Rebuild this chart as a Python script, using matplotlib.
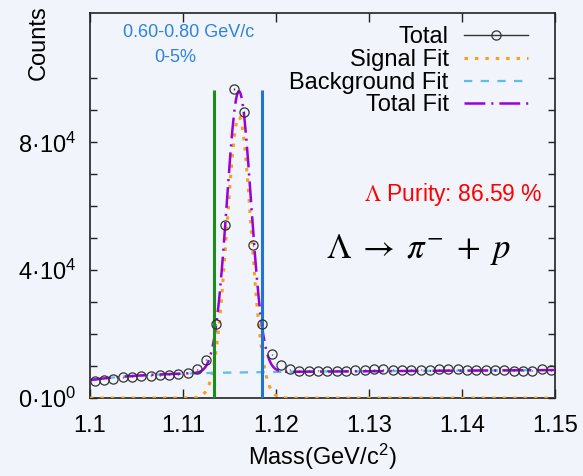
import numpy as np
import matplotlib
matplotlib.use("Agg")
import matplotlib.pyplot as plt
from matplotlib.lines import Line2D
from matplotlib.ticker import FixedLocator

plt.rcParams['font.family'] = ['Liberation Sans', 'DejaVu Sans']
plt.rcParams['mathtext.fontset'] = 'custom'
plt.rcParams['mathtext.rm'] = 'Liberation Sans'
plt.rcParams['mathtext.it'] = 'Liberation Sans:italic'
plt.rcParams['mathtext.bf'] = 'Liberation Sans:bold'
plt.rcParams['lines.scale_dashes'] = False

# ---------------- data ----------------
mass = [1.1005, 1.1015, 1.1025, 1.1035, 1.1045, 1.1055, 1.1065, 1.1075, 1.1085, 1.1095,
        1.1105, 1.1115, 1.1125, 1.1135, 1.1145, 1.1155, 1.1165, 1.1175, 1.1185, 1.1195,
        1.1205, 1.1215, 1.1225, 1.1235, 1.1245, 1.1255, 1.1265, 1.1275, 1.1285, 1.1295,
        1.1305, 1.1315, 1.1325, 1.1335, 1.1345, 1.1355, 1.1365, 1.1375, 1.1385, 1.1395,
        1.1405, 1.1415, 1.1425, 1.1435, 1.1445, 1.1455, 1.1465, 1.1475, 1.1485, 1.1495]
counts = [5400, 5600, 5950, 6450, 6650, 6880, 6980, 7080, 7300, 7400,
          7800, 8950, 12000, 23100, 54000, 96600, 89500, 47800, 23100, 13650,
          10300, 8950, 8540, 8540, 8540, 8540, 8540, 8540, 8750, 8850,
          8960, 8960, 8850, 8750, 8850, 8850, 8650, 8960, 8960, 8960,
          8750, 8750, 8750, 8650, 8650, 8540, 8540, 8540, 8960, 8650]

# fit parameters (Gaussian signal + saturating background)
sig_amp, sig_mean, sig_sigma = 88000.0, 1.1160, 0.0013
bg_x0, bg_a, bg_b, bg_c, bg_tau = 1.100, 7880.0, 17400.0, 2280.0, 0.006

# purity window
window_lo, window_hi, window_top = 1.1133, 1.1185, 96500

x_range = [1.10, 1.15]
y_range = [0, 120400]
x_ticks = [1.10, 1.11, 1.12, 1.13, 1.14, 1.15]
x_tick_labels = ['1.1', '1.11', '1.12', '1.13', '1.14', '1.15']
y_ticks = [0, 40000, 80000]
y_tick_labels = ['0·10$^{0}$', '4·10$^{4}$', '8·10$^{4}$']
y_minor_ticks = [10000, 20000, 30000, 50000, 60000, 70000, 90000, 100000]

legend_labels = ['Total', 'Signal Fit', 'Background Fit', 'Total Fit']

# ---------------- colours ----------------
bgcol = '#f1f4fa'
c_data = '#333333'
c_sig = '#f7a21b'
c_bg = '#5bbcee'
c_tot = '#9a00d8'
c_lo = '#1c8c1c'
c_hi = '#1f74d6'
c_text_blue = '#2b84dc'

fig = plt.figure(figsize=(5.83, 4.76), dpi=100, facecolor=bgcol)
ax = fig.add_axes([0.15437, 0.16387, 0.79846, 0.8082])
ax.set_facecolor(bgcol)

xf = np.linspace(x_range[0], x_range[1], 1201)
signal = sig_amp * np.exp(-0.5 * ((xf - sig_mean) / sig_sigma) ** 2)
t = xf - bg_x0
background = bg_a + bg_b * t - bg_c * np.exp(-t / bg_tau)
total_fit = signal + background

ls_sig = (0, (2.5, 5.0))
ls_bg = (0, (6.0, 6.0))
ls_tot = (0, (15.0, 4.3, 1.5, 4.3))

ax.plot(xf, signal, color=c_sig, lw=2.2, ls=ls_sig, zorder=3)
ax.plot(xf, background, color=c_bg, lw=1.6, ls=ls_bg, zorder=3)
ax.plot(xf, total_fit, color=c_tot, lw=1.8, ls=ls_tot, zorder=4)

ax.vlines([window_lo], 0, window_top, color=c_lo, lw=2.2, zorder=5)
ax.vlines([window_hi], 0, window_top, color=c_hi, lw=2.2, zorder=5)

ax.errorbar(mass, counts, yerr=np.sqrt(counts), fmt='o', ms=6.6, mfc='none',
            mec=c_data, mew=0.9, ecolor=c_data, elinewidth=0.9, capsize=0, zorder=6)

ax.set_xlim(*x_range)
ax.set_ylim(*y_range)
ax.set_xticks(x_ticks)
ax.set_xticklabels(x_tick_labels)
ax.set_yticks(y_ticks)
ax.set_yticklabels(y_tick_labels)
ax.yaxis.set_minor_locator(FixedLocator(y_minor_ticks))

for s in ax.spines.values():
    s.set_linewidth(1.2)
    s.set_color('#222222')

ax.tick_params(axis='x', which='both', direction='in', top=True, bottom=True,
               length=6.5, width=1.0, color='#222222', labelsize=17, pad=12)
ax.tick_params(axis='y', which='both', direction='in', left=True, right=True,
               length=5, width=1.0, color='#222222', labelsize=17, pad=10)

ax.set_xlabel('Mass(GeV/c$^{2}$)', fontsize=17, labelpad=4)
ax.set_ylabel('Counts', fontsize=17, rotation=90, va='center', ha='center')
ax.yaxis.set_label_coords(-0.11, 0.925)

# annotations
ax.text(0.2127, 0.951, '0.60-0.80 GeV/c', transform=ax.transAxes, color=c_text_blue,
        fontsize=13, ha='center', va='center')
ax.text(0.1826, 0.886, '0-5%', transform=ax.transAxes, color=c_text_blue,
        fontsize=13, ha='center', va='center')
ax.text(0.971, 0.513, r'$\Lambda$ Purity: 86.59 %', transform=ax.transAxes,
        color='#ff0000', fontsize=16.5, ha='right', va='baseline', math_fontfamily='stix')
ax.text(0.507, 0.364, r'$\Lambda\;\rightarrow\;\pi^{-}\;+\;p$', transform=ax.transAxes,
        color='black', fontsize=25, ha='left', va='baseline', math_fontfamily='stix')

handles = [
    Line2D([], [], color=c_data, lw=1.0, marker='o', ms=6.6, mfc='none', mec=c_data, mew=0.9),
    Line2D([], [], color=c_sig, lw=2.2, ls=ls_sig),
    Line2D([], [], color=c_bg, lw=1.6, ls=ls_bg),
    Line2D([], [], color=c_tot, lw=1.8, ls=ls_tot),
]
leg = ax.legend(handles, legend_labels, loc='upper right', bbox_to_anchor=(0.940, 0.966),
                frameon=False, markerfirst=False, fontsize=17, handlelength=2.7,
                handletextpad=0.64, labelspacing=0.03, borderaxespad=0, borderpad=0)

fig.savefig('out.png', dpi=100, facecolor=bgcol)
